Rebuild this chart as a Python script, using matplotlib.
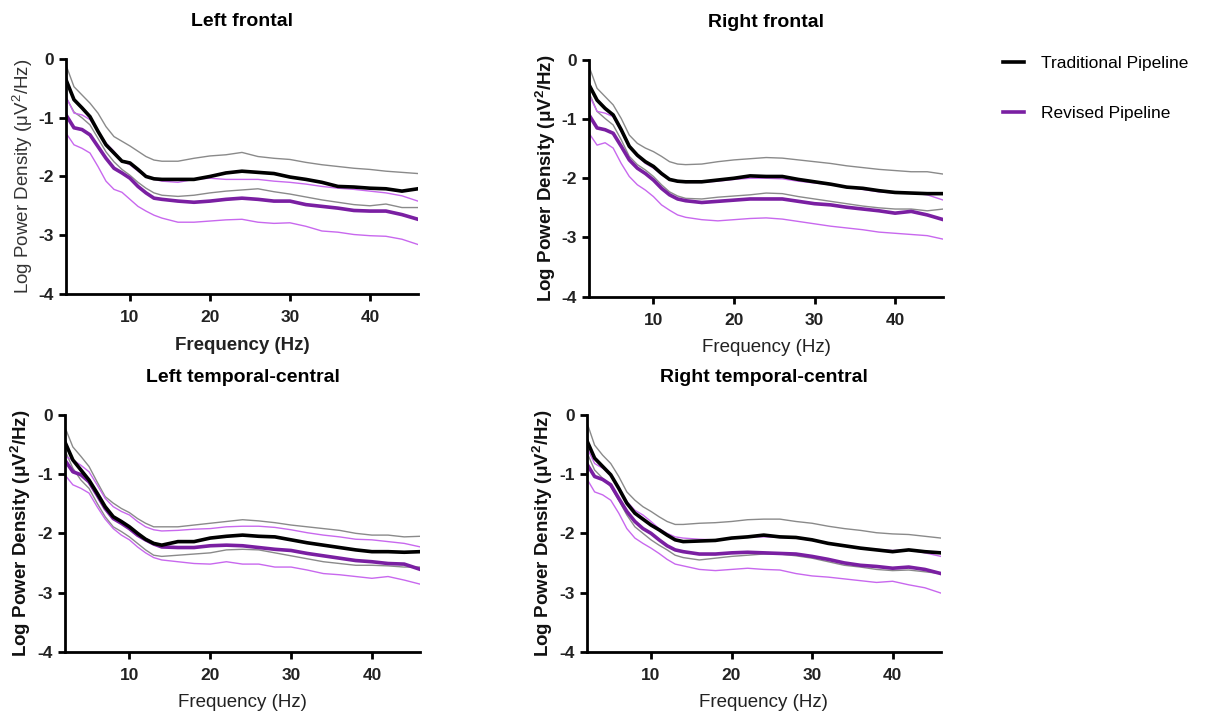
import matplotlib
matplotlib.use("Agg")
import matplotlib.pyplot as plt
from matplotlib.lines import Line2D

plt.rcParams['font.family'] = ['Liberation Sans', 'DejaVu Sans']

# frequency grid (Hz)
freqs = [2, 3, 4, 5, 6, 7, 8, 9, 10, 11, 12, 13, 14, 16, 18, 20, 22, 24, 26, 28,
         30, 32, 34, 36, 38, 40, 42, 44, 46]

# --- Left frontal ---
lf_trad_mean = [-0.35, -0.69, -0.83, -0.98, -1.23, -1.46, -1.60, -1.74, -1.77, -1.88, -2.00, -2.04, -2.05, -2.05,
                -2.05, -2.00, -1.94, -1.91, -1.93, -1.95, -2.01, -2.05, -2.10, -2.17, -2.18, -2.20, -2.21, -2.25, -2.21]
lf_trad_hi = [-0.10, -0.47, -0.61, -0.75, -0.92, -1.15, -1.32, -1.40, -1.48, -1.57, -1.66, -1.72, -1.74, -1.74,
              -1.69, -1.65, -1.63, -1.59, -1.66, -1.69, -1.71, -1.76, -1.80, -1.83, -1.86, -1.88, -1.91, -1.93, -1.95]
lf_trad_lo = [-0.65, -0.90, -1.00, -1.12, -1.35, -1.58, -1.75, -1.88, -1.98, -2.10, -2.20, -2.28, -2.32, -2.34,
              -2.32, -2.28, -2.25, -2.23, -2.21, -2.26, -2.30, -2.35, -2.40, -2.44, -2.48, -2.50, -2.47, -2.53, -2.53]
lf_rev_mean = [-0.95, -1.17, -1.20, -1.29, -1.49, -1.69, -1.86, -1.94, -2.03, -2.17, -2.28, -2.37, -2.39, -2.42,
               -2.44, -2.42, -2.39, -2.37, -2.39, -2.42, -2.42, -2.48, -2.51, -2.54, -2.58, -2.59, -2.59, -2.65, -2.73]
lf_rev_hi = [-0.64, -0.92, -0.95, -1.03, -1.23, -1.43, -1.57, -1.74, -1.80, -1.91, -2.00, -2.05, -2.08, -2.10,
             -2.05, -2.03, -2.05, -2.05, -2.05, -2.08, -2.10, -2.13, -2.17, -2.20, -2.22, -2.25, -2.28, -2.33, -2.42]
lf_rev_lo = [-1.26, -1.46, -1.52, -1.60, -1.83, -2.08, -2.22, -2.27, -2.39, -2.51, -2.59, -2.66, -2.71, -2.78,
             -2.78, -2.76, -2.74, -2.73, -2.78, -2.80, -2.79, -2.85, -2.93, -2.95, -2.99, -3.01, -3.02, -3.07, -3.16]

# --- Right frontal ---
rf_trad_mean = [-0.42, -0.68, -0.82, -0.93, -1.18, -1.46, -1.61, -1.72, -1.80, -1.92, -2.02, -2.05, -2.06, -2.06,
                -2.03, -2.00, -1.96, -1.97, -1.97, -2.02, -2.06, -2.10, -2.15, -2.17, -2.21, -2.24, -2.25, -2.26, -2.26]
rf_trad_hi = [-0.11, -0.48, -0.62, -0.76, -0.99, -1.27, -1.41, -1.49, -1.55, -1.63, -1.72, -1.76, -1.77, -1.76,
              -1.72, -1.69, -1.67, -1.65, -1.66, -1.69, -1.72, -1.75, -1.79, -1.82, -1.85, -1.87, -1.89, -1.89, -1.93]
rf_trad_lo = [-0.55, -0.87, -0.99, -1.10, -1.35, -1.63, -1.77, -1.86, -1.97, -2.11, -2.23, -2.30, -2.34, -2.35,
              -2.32, -2.30, -2.28, -2.25, -2.26, -2.31, -2.35, -2.39, -2.43, -2.47, -2.50, -2.52, -2.52, -2.55, -2.52]
rf_rev_mean = [-0.93, -1.15, -1.18, -1.24, -1.46, -1.69, -1.83, -1.92, -2.03, -2.17, -2.28, -2.35, -2.38, -2.41,
               -2.39, -2.37, -2.35, -2.35, -2.35, -2.39, -2.43, -2.45, -2.49, -2.52, -2.55, -2.59, -2.56, -2.62, -2.70]
rf_rev_hi = [-0.59, -0.87, -0.90, -0.96, -1.21, -1.46, -1.63, -1.75, -1.83, -1.94, -2.03, -2.06, -2.07, -2.07,
             -2.05, -2.02, -2.00, -2.00, -2.01, -2.05, -2.08, -2.11, -2.15, -2.19, -2.23, -2.25, -2.25, -2.28, -2.37]
rf_rev_lo = [-1.24, -1.44, -1.40, -1.49, -1.75, -1.97, -2.11, -2.20, -2.31, -2.45, -2.54, -2.62, -2.66, -2.70,
             -2.72, -2.70, -2.68, -2.67, -2.69, -2.73, -2.77, -2.81, -2.84, -2.87, -2.91, -2.93, -2.95, -2.97, -3.03]

# --- Left temporal-central ---
lt_trad_mean = [-0.45, -0.76, -0.93, -1.10, -1.32, -1.55, -1.72, -1.80, -1.89, -2.00, -2.10, -2.17, -2.20, -2.14,
                -2.14, -2.08, -2.05, -2.03, -2.05, -2.06, -2.11, -2.16, -2.20, -2.24, -2.28, -2.31, -2.31, -2.32, -2.31]
lt_trad_hi = [-0.20, -0.54, -0.70, -0.87, -1.13, -1.38, -1.49, -1.58, -1.65, -1.75, -1.83, -1.89, -1.89, -1.89,
              -1.86, -1.83, -1.80, -1.77, -1.79, -1.82, -1.86, -1.89, -1.92, -1.95, -2.00, -2.03, -2.03, -2.06, -2.05]
lt_trad_lo = [-0.59, -0.90, -1.10, -1.24, -1.49, -1.72, -1.89, -1.97, -2.06, -2.17, -2.28, -2.37, -2.39, -2.37,
              -2.35, -2.33, -2.28, -2.27, -2.28, -2.33, -2.38, -2.43, -2.48, -2.51, -2.54, -2.54, -2.55, -2.57, -2.57]
lt_rev_mean = [-0.76, -0.96, -1.01, -1.13, -1.35, -1.58, -1.75, -1.83, -1.92, -2.03, -2.11, -2.18, -2.23, -2.24,
               -2.24, -2.21, -2.20, -2.21, -2.24, -2.27, -2.29, -2.34, -2.38, -2.42, -2.46, -2.48, -2.51, -2.52, -2.61]
lt_rev_hi = [-0.70, -0.76, -0.85, -0.96, -1.18, -1.41, -1.55, -1.63, -1.69, -1.80, -1.89, -1.94, -1.96, -1.95,
             -1.93, -1.92, -1.89, -1.88, -1.88, -1.90, -1.94, -1.99, -2.03, -2.06, -2.10, -2.11, -2.14, -2.17, -2.23]
lt_rev_lo = [-1.01, -1.18, -1.24, -1.32, -1.55, -1.76, -1.92, -2.03, -2.11, -2.23, -2.33, -2.41, -2.45, -2.48,
             -2.51, -2.52, -2.48, -2.52, -2.52, -2.57, -2.57, -2.62, -2.68, -2.70, -2.73, -2.76, -2.73, -2.79, -2.86]

# --- Right temporal-central ---
rt_trad_mean = [-0.42, -0.73, -0.87, -1.01, -1.24, -1.49, -1.66, -1.76, -1.86, -1.94, -2.03, -2.11, -2.14, -2.13,
                -2.12, -2.08, -2.06, -2.03, -2.06, -2.07, -2.11, -2.17, -2.21, -2.25, -2.28, -2.31, -2.28, -2.31, -2.33]
rt_trad_hi = [-0.11, -0.51, -0.68, -0.82, -1.04, -1.30, -1.44, -1.55, -1.63, -1.72, -1.80, -1.85, -1.85, -1.83,
              -1.82, -1.80, -1.77, -1.76, -1.76, -1.80, -1.83, -1.88, -1.92, -1.95, -1.99, -2.01, -2.02, -2.05, -2.08]
rt_trad_lo = [-0.62, -0.93, -1.07, -1.21, -1.44, -1.69, -1.89, -2.00, -2.11, -2.20, -2.28, -2.37, -2.41, -2.45,
              -2.42, -2.39, -2.37, -2.35, -2.35, -2.38, -2.42, -2.48, -2.54, -2.57, -2.61, -2.63, -2.62, -2.65, -2.68]
rt_rev_mean = [-0.82, -1.04, -1.09, -1.18, -1.41, -1.63, -1.80, -1.92, -2.00, -2.11, -2.21, -2.28, -2.31, -2.35,
               -2.35, -2.33, -2.32, -2.33, -2.34, -2.35, -2.39, -2.44, -2.50, -2.54, -2.56, -2.59, -2.57, -2.61, -2.68]
rt_rev_hi = [-0.54, -0.82, -0.90, -1.01, -1.24, -1.46, -1.61, -1.69, -1.80, -1.92, -2.00, -2.06, -2.08, -2.10,
             -2.11, -2.08, -2.06, -2.06, -2.07, -2.08, -2.12, -2.17, -2.21, -2.25, -2.27, -2.29, -2.28, -2.33, -2.39]
rt_rev_lo = [-1.07, -1.30, -1.35, -1.44, -1.66, -1.92, -2.08, -2.17, -2.25, -2.34, -2.44, -2.52, -2.55, -2.61,
             -2.63, -2.61, -2.59, -2.61, -2.62, -2.68, -2.72, -2.74, -2.77, -2.80, -2.83, -2.81, -2.87, -2.92, -3.01]

titles = ["Left frontal", "Right frontal", "Left temporal-central", "Right temporal-central"]
series_names = ["Traditional Pipeline", "Revised Pipeline"]

TRAD = "#000000"
TRAD_BAND = "#8a8a8a"
REV = "#7a1fa2"
REV_BAND = "#c868ee"

fig = plt.figure(figsize=(12.22, 7.13), dpi=100)

# axes rectangles [left, bottom, width, height] in figure fraction
rects = [
    [0.054, 0.588, 0.288, 0.329],
    [0.482, 0.584, 0.290, 0.332],
    [0.053, 0.086, 0.291, 0.332],
    [0.480, 0.086, 0.290, 0.332],
]

panels = [
    (lf_trad_mean, lf_trad_hi, lf_trad_lo, lf_rev_mean, lf_rev_hi, lf_rev_lo),
    (rf_trad_mean, rf_trad_hi, rf_trad_lo, rf_rev_mean, rf_rev_hi, rf_rev_lo),
    (lt_trad_mean, lt_trad_hi, lt_trad_lo, lt_rev_mean, lt_rev_hi, lt_rev_lo),
    (rt_trad_mean, rt_trad_hi, rt_trad_lo, rt_rev_mean, rt_rev_hi, rt_rev_lo),
]

# label weights differ a bit from panel to panel in the original
ylabel_weights = ["normal", "bold", "bold", "bold"]
ylabel_colors = ["#333333", "#111111", "#111111", "#111111"]
xlabel_weights = ["bold", "normal", "normal", "normal"]

for i, (rect, data) in enumerate(zip(rects, panels)):
    ax = fig.add_axes(rect)
    t_mean, t_hi, t_lo, r_mean, r_hi, r_lo = data

    ax.plot(freqs, t_hi, color=TRAD_BAND, lw=1.0)
    ax.plot(freqs, t_lo, color=TRAD_BAND, lw=1.0)
    ax.plot(freqs, r_hi, color=REV_BAND, lw=1.0)
    ax.plot(freqs, r_lo, color=REV_BAND, lw=1.0)
    ax.plot(freqs, r_mean, color=REV, lw=2.6)
    ax.plot(freqs, t_mean, color=TRAD, lw=2.6)

    ax.set_xlim(2, 46)
    ax.set_ylim(-4, 0)
    ax.set_xticks([10, 20, 30, 40])
    ax.set_yticks([0, -1, -2, -3, -4])
    ax.set_yticklabels(["0", "-1", "-2", "-3", "-4"])

    for s in ["top", "right"]:
        ax.spines[s].set_visible(False)
    for s in ["left", "bottom"]:
        ax.spines[s].set_linewidth(2.0)
    ax.tick_params(direction="out", width=2.0, length=5, labelsize=12.5)
    ax.tick_params(axis="x", pad=7)
    for lab in ax.get_xticklabels() + ax.get_yticklabels():
        lab.set_fontweight("bold")
        lab.set_color("#222222")

    ax.set_title(titles[i], fontsize=14, fontweight="bold", pad=24)
    ax.set_xlabel("Frequency (Hz)", fontsize=13.5, fontweight=xlabel_weights[i], color="#222222", labelpad=8)
    ax.set_ylabel(r"Log Power Density ($\mathregular{\mu V^2/Hz}$)", fontsize=13.5,
                  fontweight=ylabel_weights[i], color=ylabel_colors[i], labelpad=3)

handles = [Line2D([], [], color=TRAD, lw=2.6), Line2D([], [], color=REV, lw=2.6)]
fig.legend(handles, series_names, loc="upper left", bbox_to_anchor=(0.808, 0.943),
           frameon=False, fontsize=12.5, handlelength=1.2, handletextpad=1.0, labelspacing=2.0)

fig.savefig("out.png", dpi=100)
